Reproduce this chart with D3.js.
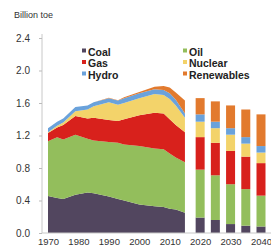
<!DOCTYPE html>
<html>
<head>
<meta charset="utf-8">
<script src="https://cdn.jsdelivr.net/npm/d3@7"></script>
<style>
  body { margin: 0; background: #fff; }
  svg { font-family: "Liberation Sans", Arial, sans-serif; }
</style>
</head>
<body>
<div id="main"></div>
<script>
// fuel order, bottom of the stack first
const fuels = ['Coal', 'Oil', 'Gas', 'Nuclear', 'Hydro', 'Renewables'];
const colors = ['#52465f', '#93be5c', '#d8211c', '#f3d36a', '#6aa2db', '#e27a2e'];

// historical consumption, billion toe
const histYears = [1970, 1973, 1975, 1979, 1983, 1985, 1990, 1993, 1995, 2000, 2005, 2008, 2010, 2012, 2015];
const histCoal = [0.455, 0.43, 0.42, 0.47, 0.50, 0.49, 0.45, 0.42, 0.40, 0.35, 0.33, 0.32, 0.30, 0.29, 0.25];
const histOil = [0.675, 0.75, 0.73, 0.74, 0.66, 0.65, 0.67, 0.69, 0.69, 0.72, 0.71, 0.71, 0.68, 0.64, 0.62];
const histGas = [0.10, 0.12, 0.18, 0.23, 0.25, 0.28, 0.27, 0.27, 0.31, 0.38, 0.44, 0.44, 0.42, 0.40, 0.37];
const histNuclear = [0.01, 0.02, 0.03, 0.06, 0.11, 0.14, 0.22, 0.20, 0.20, 0.21, 0.23, 0.23, 0.25, 0.24, 0.18];
const histHydro = [0.05, 0.05, 0.05, 0.05, 0.05, 0.05, 0.05, 0.05, 0.06, 0.06, 0.06, 0.06, 0.07, 0.07, 0.05];
const histRenew = [0, 0, 0, 0, 0, 0, 0.005, 0.005, 0.01, 0.015, 0.03, 0.05, 0.07, 0.09, 0.16];

// outlook bars
const outYears = [2020, 2025, 2030, 2035, 2040];
const outCoal = [0.19, 0.16, 0.11, 0.09, 0.08];
const outOil = [0.59, 0.55, 0.49, 0.45, 0.38];
const outGas = [0.40, 0.40, 0.41, 0.40, 0.40];
const outNuclear = [0.19, 0.18, 0.20, 0.16, 0.13];
const outHydro = [0.09, 0.08, 0.08, 0.08, 0.08];
const outRenew = [0.20, 0.25, 0.28, 0.34, 0.39];

const yTicks = [0, 0.4, 0.8, 1.2, 1.6, 2.0, 2.4];
const xTicks = [1970, 1980, 1990, 2000, 2010, 2020, 2030, 2040];

function main() {
  const svg = d3.select('#main').append('svg')
    .attr('width', 271)
    .attr('height', 249);

  const x = d3.scaleLinear().domain([1970, 2040]).range([48, 261]);
  const y = d3.scaleLinear().domain([0, 2.4]).range([233, 38]);
  const color = d3.scaleOrdinal().domain(fuels).range(colors);

  // build rows for d3.stack
  const histRows = histYears.map((yr, i) => ({
    year: yr, Coal: histCoal[i], Oil: histOil[i], Gas: histGas[i],
    Nuclear: histNuclear[i], Hydro: histHydro[i], Renewables: histRenew[i]
  }));
  const outRows = outYears.map((yr, i) => ({
    year: yr, Coal: outCoal[i], Oil: outOil[i], Gas: outGas[i],
    Nuclear: outNuclear[i], Hydro: outHydro[i], Renewables: outRenew[i]
  }));
  const stack = d3.stack().keys(fuels);

  // historical areas
  const area = d3.area()
    .x(d => x(d.data.year))
    .y0(d => y(d[0]))
    .y1(d => y(d[1]));
  svg.append('g').selectAll('path')
    .data(stack(histRows))
    .enter()
    .append('path')
    .attr('d', area)
    .attr('fill', d => color(d.key));

  // outlook bars
  const barW = 9;
  svg.append('g').selectAll('g')
    .data(stack(outRows))
    .enter()
    .append('g')
    .attr('fill', d => color(d.key))
    .selectAll('rect')
    .data(d => d)
    .enter()
    .append('rect')
    .attr('x', d => x(d.data.year) - barW / 2)
    .attr('width', barW)
    .attr('y', d => y(d[1]))
    .attr('height', d => y(d[0]) - y(d[1]));

  // y axis
  const yAxis = svg.append('g')
    .attr('transform', 'translate(42,0)')
    .call(d3.axisLeft(y).tickValues(yTicks).tickFormat(d3.format('.1f')).tickSize(3).tickPadding(9));
  yAxis.select('.domain').attr('stroke', '#c8c8c8').attr('d', `M0,${y(2.4) - 4}V${y(0)}`);
  yAxis.selectAll('.tick line').attr('stroke', '#bbb');
  yAxis.selectAll('.tick text').attr('fill', '#333').style('font-size', '10px');

  // x axis
  const xAxis = svg.append('g')
    .attr('transform', `translate(0,${y(0)})`)
    .call(d3.axisBottom(x).tickValues(xTicks).tickFormat(d3.format('d')).tickSize(0).tickPadding(5));
  xAxis.select('.domain').attr('stroke', '#c8c8c8').attr('d', 'M42,0H271');
  xAxis.selectAll('.tick text').attr('fill', '#333').style('font-size', '9.5px');

  // unit label
  svg.append('text')
    .attr('x', 14)
    .attr('y', 18)
    .attr('fill', '#333')
    .style('font-size', '9px')
    .text('Billion toe');

  // legend, two columns
  const legendOrder = ['Coal', 'Gas', 'Hydro', 'Oil', 'Nuclear', 'Renewables'];
  const legend = svg.append('g').selectAll('g')
    .data(legendOrder)
    .enter()
    .append('g')
    .attr('transform', (d, i) => `translate(${i < 3 ? 82 : 183},${52 + (i % 3) * 11.5})`);
  legend.append('rect')
    .attr('x', 0).attr('y', -3.5)
    .attr('width', 4).attr('height', 4)
    .attr('fill', d => color(d));
  legend.append('text')
    .attr('x', 6)
    .attr('y', 3.5)
    .attr('fill', '#222')
    .style('font-size', '10.5px')
    .style('font-weight', 'bold')
    .text(d => d);
}
document.addEventListener('DOMContentLoaded', main);
</script>
</body>
</html>
